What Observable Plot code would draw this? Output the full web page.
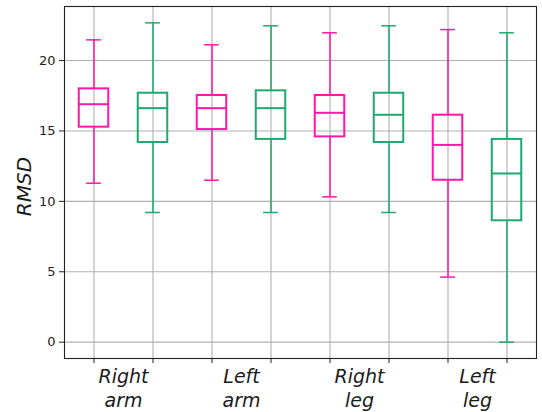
<!DOCTYPE html>
<html><head><meta charset="utf-8">
<script src="https://cdn.jsdelivr.net/npm/d3@7"></script>
<script src="https://cdn.jsdelivr.net/npm/@observablehq/plot@0.6"></script>
<style>
html,body{margin:0;padding:0;background:#fff;}
svg{display:block;font-family:"DejaVu Sans",sans-serif;}
</style></head>
<body><div id="chart"></div>
<script>
const groups = ["Right\narm", "Left\narm", "Right\nleg", "Left\nleg"];
const seriesNames = ["Series A", "Series B"];
const seriesColors = ["#ff17a8", "#1fa870"];
const yTicks = [0, 5, 10, 15, 20];

// per series, per group (Right arm, Left arm, Right leg, Left leg)
const lowA  = [11.29, 11.5, 10.32, 4.62];
const q1A   = [15.27, 15.1, 14.58, 11.5];
const medA  = [16.9, 16.62, 16.29, 14.01];
const q3A   = [17.99, 17.52, 17.52, 16.12];
const highA = [21.47, 21.12, 21.97, 22.2];

const lowB  = [9.21, 9.21, 9.21, 0];
const q1B   = [14.18, 14.4, 14.18, 8.62];
const medB  = [16.62, 16.62, 16.15, 11.98];
const q3B   = [17.68, 17.85, 17.68, 14.4];
const highB = [22.68, 22.47, 22.47, 21.97];

const stats = [
  {low: lowA, q1: q1A, med: medA, q3: q3A, high: highA},
  {low: lowB, q1: q1B, med: medB, q3: q3B, high: highB}
];

const rows = [];
groups.forEach((g, gi) => {
  stats.forEach((st, si) => {
    rows.push({
      group: g, series: seriesNames[si], pos: 2 * gi + si + 1,
      low: st.low[gi], q1: st.q1[gi], med: st.med[gi], q3: st.q3[gi], high: st.high[gi]
    });
  });
});
const positions = rows.map(d => d.pos);
const groupCenters = groups.map((g, gi) => 2 * gi + 1.5);

const BW = 0.25, CW = 0.125;
const color = {domain: seriesNames, range: seriesColors};

const chart = Plot.plot({
  width: 542, height: 412,
  marginLeft: 64, marginRight: 6, marginTop: 6, marginBottom: 54,
  style: {fontFamily: "DejaVu Sans, sans-serif", background: "#fff"},
  x: {type: "linear", domain: [0.5, 8.5]},
  y: {domain: [-1.16, 23.84]},
  color: color,
  marks: [
    Plot.ruleX(positions, {x: d => d, stroke: "#b0b0b0", strokeWidth: 1.1}),
    Plot.ruleY(yTicks, {y: d => d, stroke: "#b0b0b0", strokeWidth: 1.1}),
    Plot.ruleX(rows, {x: "pos", y1: "low", y2: "q1", stroke: "series", strokeWidth: 1.5}),
    Plot.ruleX(rows, {x: "pos", y1: "q3", y2: "high", stroke: "series", strokeWidth: 1.5}),
    Plot.ruleY(rows, {y: "low", x1: d => d.pos - CW, x2: d => d.pos + CW, stroke: "series", strokeWidth: 1.5}),
    Plot.ruleY(rows, {y: "high", x1: d => d.pos - CW, x2: d => d.pos + CW, stroke: "series", strokeWidth: 1.5}),
    Plot.rect(rows, {x1: d => d.pos - BW, x2: d => d.pos + BW, y1: "q1", y2: "q3", fill: "none", stroke: "series", strokeWidth: 2}),
    Plot.ruleY(rows, {y: "med", x1: d => d.pos - BW, x2: d => d.pos + BW, stroke: "series", strokeWidth: 2}),
    Plot.axisY({ticks: yTicks, tickSize: 5, tickPadding: 4, fontSize: 13, label: null, stroke: "#222", color: "#222"}),
    Plot.axisX({ticks: positions, tickSize: 5, tickFormat: () => "", label: null, stroke: "#222"}),
    Plot.axisX({ticks: groupCenters, tickSize: 0, tickPadding: 7, tickFormat: (d, i) => groups[i],
      fontSize: 19, fontStyle: "italic", lineHeight: 1.28, label: null, color: "#1a1a1a"}),
    Plot.text(["RMSD"], {frameAnchor: "left", textAnchor: "middle", text: d => d, rotate: -90, dx: -40, dy: 4,
      fontSize: 20, fontStyle: "italic", fill: "#1a1a1a"}),
    Plot.frame({stroke: "#222", strokeWidth: 1.1})
  ]
});
document.getElementById("chart").appendChild(chart);
</script>
</body></html>
